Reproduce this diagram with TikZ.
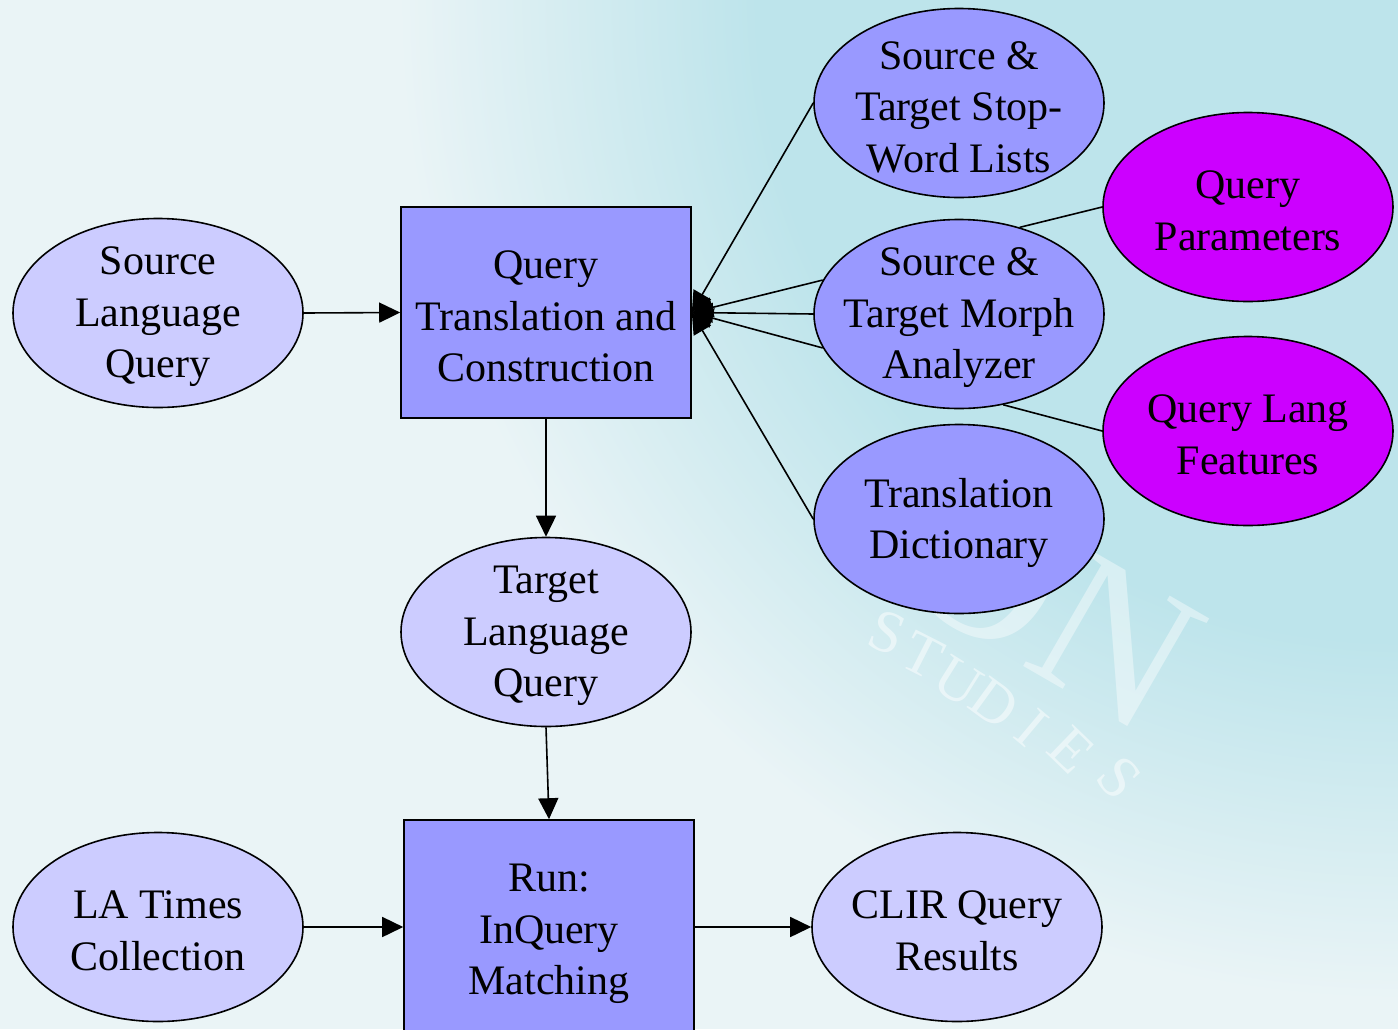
\documentclass[tikz,border=0pt]{standalone}
\usepackage{fontspec}
\setmainfont{Liberation Serif}
\usetikzlibrary{arrows.meta,shapes.geometric}

\definecolor{palebg}{HTML}{EAF4F6}
\definecolor{cyanbg}{HTML}{BDE4EB}
\definecolor{lightnode}{HTML}{CCCCFF}
\definecolor{midnode}{HTML}{9999FF}
\definecolor{magnode}{HTML}{CC00FF}

% soft cyan glow spreading from the upper right corner
\pgfdeclareradialshading{bgglow}{\pgfpoint{0bp}{0bp}}{%
  color(0bp)=(cyanbg); color(16bp)=(cyanbg); color(25bp)=(palebg); color(50bp)=(palebg)}

\begin{document}
\begin{tikzpicture}[x=1pt,y=-1pt,
  every node/.style={font=\fontsize{42}{51.5}\selectfont, align=center, text=black},
  oval/.style={ellipse, draw=black, line width=1.6pt, minimum width=290pt,
               minimum height=189pt, inner sep=0pt},
  box/.style={rectangle, draw=black, line width=1.6pt, fill=midnode, inner sep=0pt},
  lbl/.style={inner sep=0pt, yshift=-4pt},
  flow/.style={line width=1.6pt, -{Triangle[length=21pt,width=20pt]}},
  link/.style={line width=1.6pt},
  wm/.style={text=white, text opacity=0.5, font=\fontsize{60}{60}\selectfont},
  wmbig/.style={text=white, text opacity=0.42, font=\fontsize{205}{205}\selectfont}]

\useasboundingbox (0,0) rectangle (1398,1029);
\begin{scope}
\clip (0,0) rectangle (1398,1029);

% background
\fill[palebg] (0,0) rectangle (1398,1029);
\shade[shading=bgglow] (1398,0) circle[radius=1000pt];

% faint watermark lettering
\node[wmbig, rotate=-30] (wmon) at (1052,606) {ON};
\node[wm, rotate=-22] (w1) at (887,633) {S};
\node[wm, rotate=-27] (w2) at (923,655) {T};
\node[wm, rotate=-32] (w3) at (958,682) {U};
\node[wm, rotate=-36] (w4) at (995,703) {D};
\node[wm, rotate=-40] (w5) at (1032,728) {I};
\node[wm, rotate=-44] (w6) at (1071,750) {E};
\node[wm, rotate=-48] (w7) at (1119,778) {S};

% shapes
\node[oval, fill=lightnode] (slq) at (158,313) {};
\node[box, minimum width=290pt, minimum height=211pt] (qtc) at (546,312.5) {};
\node[oval, fill=lightnode] (tlq) at (546,632) {};
\node[box, minimum width=290pt, minimum height=220pt] (run) at (549,930) {};
\node[oval, fill=lightnode] (lat) at (158,927) {};
\node[oval, fill=lightnode] (clir) at (957,927) {};

\node[oval, fill=midnode] (stop) at (959,103) {};
\node[oval, fill=midnode] (morph) at (959,314) {};
\node[oval, fill=midnode] (dict) at (959,519) {};

\node[oval, fill=magnode] (qp) at (1248,207) {};
\node[oval, fill=magnode] (qlf) at (1248,431) {};

% labels
\node[lbl] (slq-t) at (slq) {Source\\Language\\Query};
\node[lbl] (qtc-t) at (qtc) {Query\\Translation and\\Construction};
\node[lbl] (tlq-t) at (tlq) {Target\\Language\\Query};
\node[lbl] (run-t) at (run) {Run:\\InQuery\\Matching};
\node[lbl] (lat-t) at (lat) {LA Times\\Collection};
\node[lbl] (clir-t) at (clir) {CLIR Query\\Results};
\node[lbl] (stop-t) at (stop) {Source \&\\Target Stop-\\Word Lists};
\node[lbl] (morph-t) at (morph) {Source \&\\Target Morph\\Analyzer};
\node[lbl] (dict-t) at (dict) {Translation\\Dictionary};
\node[lbl] (qp-t) at (qp) {Query\\Parameters};
\node[lbl] (qlf-t) at (qlf) {Query Lang\\Features};

% main flow
\draw[flow] (slq.east) -- (qtc.west);
\draw[flow] (qtc.south) -- (tlq.north);
\draw[flow] (tlq.south) -- (run.north);
\draw[flow] (lat.east) -- (run.west |- lat.east);
\draw[flow] (run.east |- clir.west) -- (clir.west);

% resources feeding the translation step
\draw[flow] (stop.west) -- (qtc.east);
\draw[flow] (morph.166) -- (qtc.east);
\draw[flow] (morph.west) -- (qtc.east);
\draw[flow] (morph.194) -- (qtc.east);
\draw[flow] (dict.west) -- (qtc.east);

% settings attached to the analyzer
\draw[link] (qp.west) -- (morph.55);
\draw[link] (qlf.west) -- (morph.-64);
\end{scope}
\end{tikzpicture}
\end{document}
